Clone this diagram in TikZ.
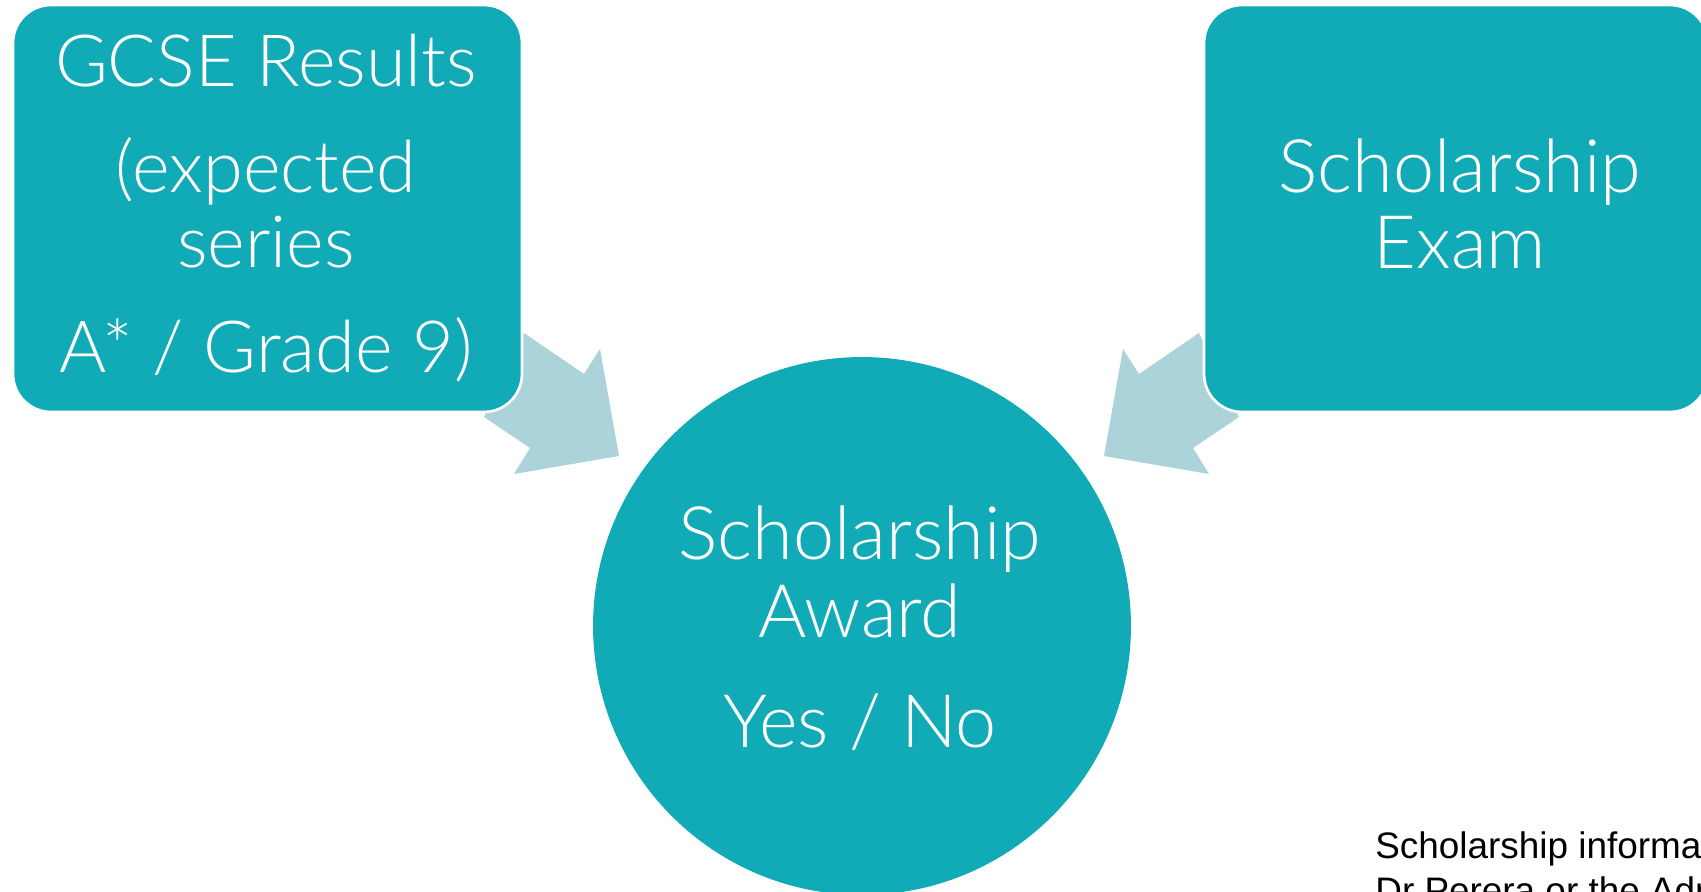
\documentclass[tikz,border=0pt]{standalone}
\usepackage{fontspec}
\setmainfont{Lato}[UprightFont=* Light]
\newfontfamily\notefont{Liberation Sans}
\usetikzlibrary{positioning}

\definecolor{boxteal}{HTML}{11AAB7}
\definecolor{arrowblue}{HTML}{ABD3D9}

\begin{document}
\begin{tikzpicture}[
			x = 0.02cm,
			y = -0.02cm,
			box/.style = {fill = boxteal, draw = white, line width = 1.5pt, rounded corners = 0.76cm, inner sep = 0pt},
			roundbox/.style = {circle, fill = boxteal, inner sep = 0pt, minimum size = 10.76cm},
			boxtext/.style = {text = white, anchor = base, inner sep = 0pt, font = \fontsize{42}{50}\selectfont},
			notetext/.style = {text = black, anchor = base west, inner sep = 0pt, font = \notefont\fontsize{21}{25}\selectfont},
			blockarrow/.style = {fill = arrowblue}
			]

			\useasboundingbox (0,0) rectangle (1701,892);

			% arrows first, the boxes go on top
			\fill[blockarrow] (524,333) -- (584,374) -- (600,349) -- (619,456) -- (514,474) -- (530,448) -- (484,417) -- cycle;
			\fill[blockarrow] (1199,333) -- (1139,374) -- (1123,349) -- (1104,456) -- (1209,474) -- (1193,448) -- (1239,417) -- cycle;

			\node[box, minimum width = 10.18cm, minimum height = 8.14cm] (gcse) at (267.5,208.5) {};
			\node[box, minimum width = 10.08cm, minimum height = 8.14cm] (exam) at (1456,208.5) {};
			\node[roundbox] (award) at (862,626) {};

			% left box
			\node[boxtext, font = \fontsize{41}{49}\selectfont] (gcse1) at (266,87) {GCSE Results};
			\node[boxtext, font = \fontsize{41}{49}\selectfont] (gcse2) at (266,193) {(expected};
			\node[boxtext, font = \fontsize{41}{49}\selectfont] (gcse3) at (266,267) {series};
			\node[boxtext, font = \fontsize{41}{49}\selectfont] (gcse4) at (266,372) {A* / Grade 9)};

			% right box
			\node[boxtext] (exam1) at (1460,193) {Scholarship};
			\node[boxtext] (exam2) at (1460,268) {Exam};

			% circle
			\node[boxtext] (award1) at (860,559) {Scholarship};
			\node[boxtext] (award2) at (860,637) {Award};
			\node[boxtext] (award3) at (860,747) {Yes / No};

			% note bottom right
			\node[notetext] (info1) at (1375,858) {Scholarship information};
			\node[notetext] (info2) at (1375,903) {Dr Perera or the Admissions};

		\end{tikzpicture}
\end{document}
